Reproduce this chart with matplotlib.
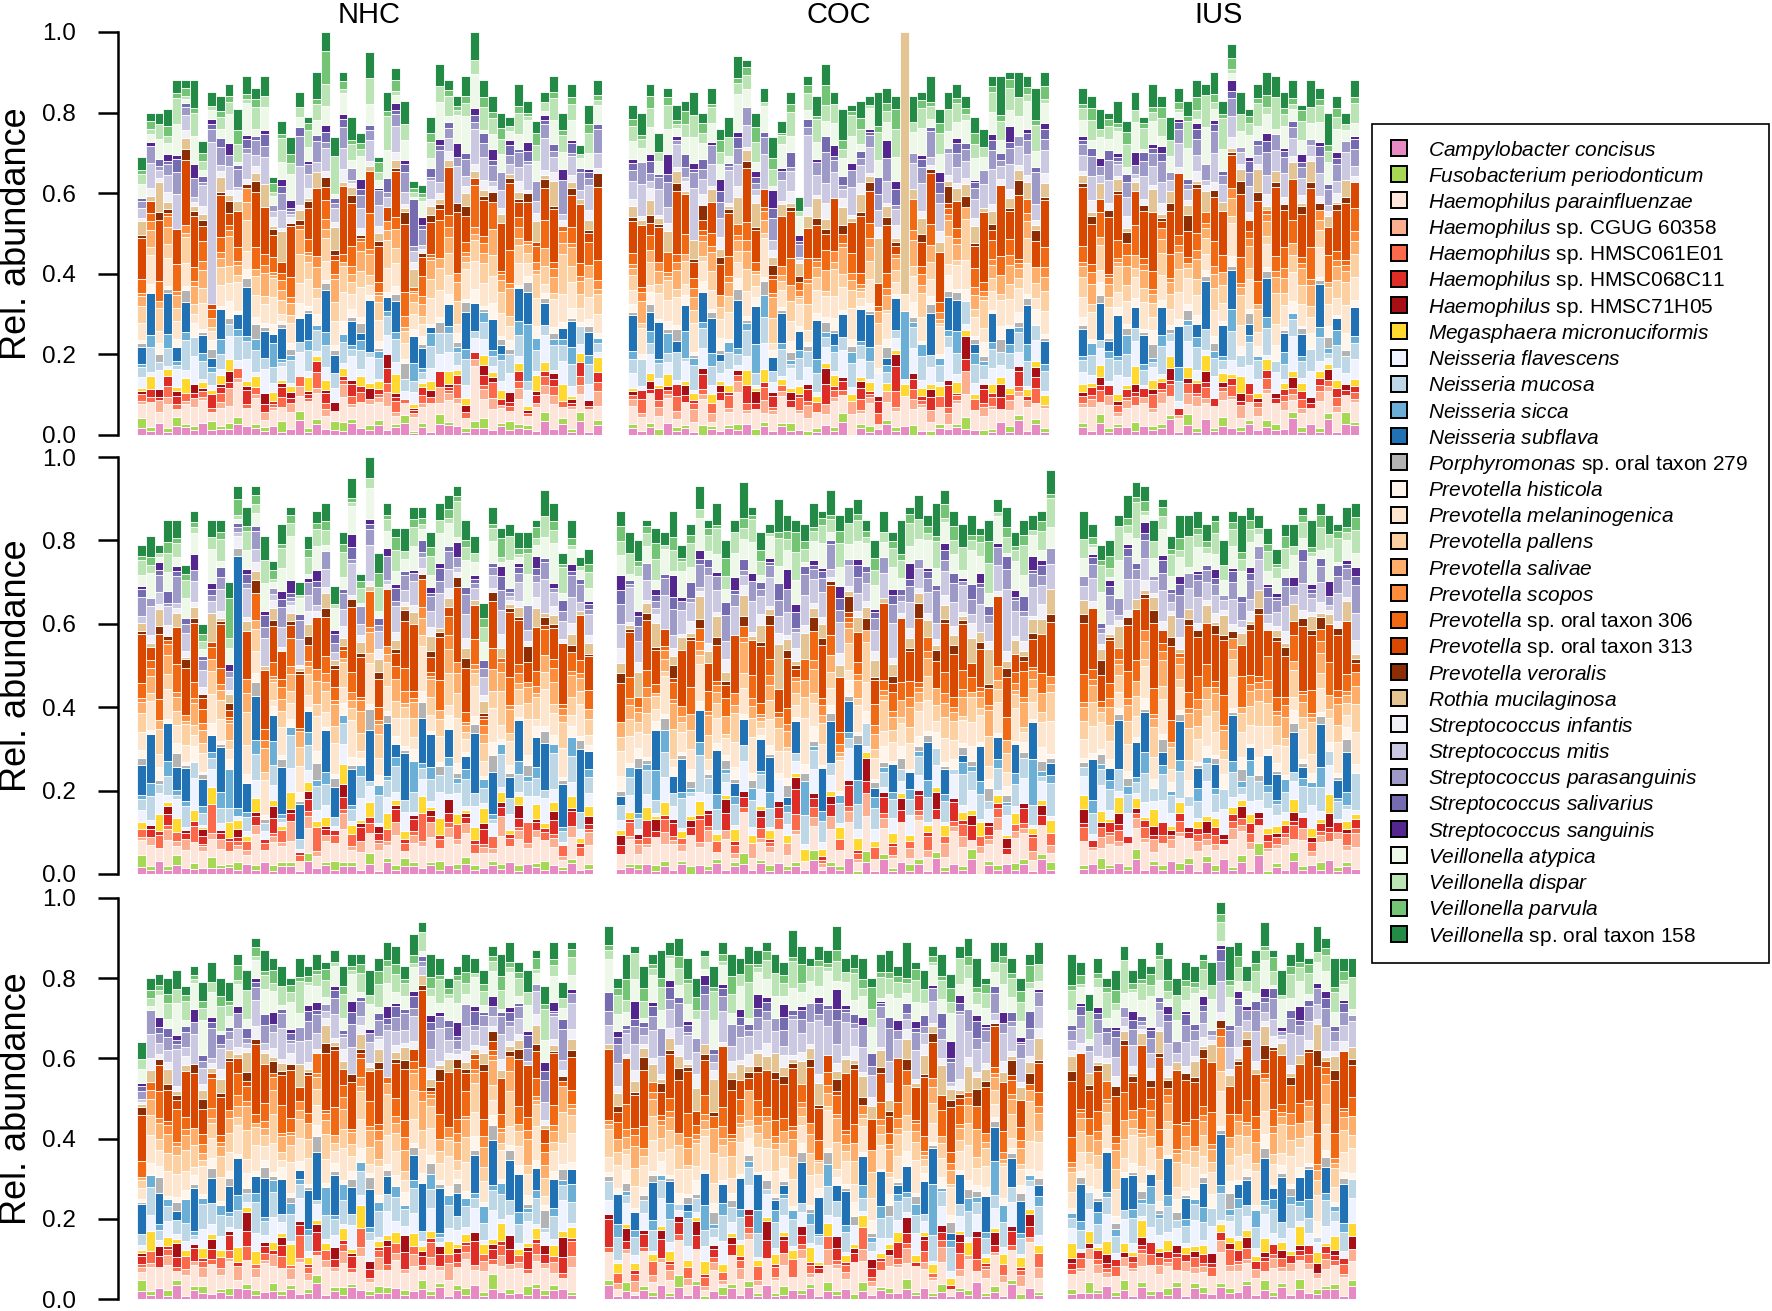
import numpy as np
import matplotlib
matplotlib.use("Agg")
import matplotlib.pyplot as plt
from matplotlib.patches import Rectangle

plt.rcParams["font.family"] = ["Liberation Sans", "DejaVu Sans"]
plt.rcParams["mathtext.fontset"] = "custom"
plt.rcParams["mathtext.rm"] = "Liberation Sans"
plt.rcParams["mathtext.it"] = "Liberation Sans:italic"

GROUPS = ["NHC", "COC", "IUS"]

SPECIES = [
    "Campylobacter concisus", "Fusobacterium periodonticum",
    "Haemophilus parainfluenzae", "Haemophilus sp. CGUG 60358",
    "Haemophilus sp. HMSC061E01", "Haemophilus sp. HMSC068C11",
    "Haemophilus sp. HMSC71H05", "Megasphaera micronuciformis",
    "Neisseria flavescens", "Neisseria mucosa", "Neisseria sicca",
    "Neisseria subflava", "Porphyromonas sp. oral taxon 279",
    "Prevotella histicola", "Prevotella melaninogenica", "Prevotella pallens",
    "Prevotella salivae", "Prevotella scopos", "Prevotella sp. oral taxon 306",
    "Prevotella sp. oral taxon 313", "Prevotella veroralis",
    "Rothia mucilaginosa", "Streptococcus infantis", "Streptococcus mitis",
    "Streptococcus parasanguinis", "Streptococcus salivarius",
    "Streptococcus sanguinis", "Veillonella atypica", "Veillonella dispar",
    "Veillonella parvula", "Veillonella sp. oral taxon 158",
]

COLORS = [
    "#E78AC3", "#A6D854",
    "#FEE5D9", "#FCAE91", "#FB6A4A", "#DE2D26", "#A50F15",
    "#FFD92F",
    "#EFF3FF", "#BDD7E7", "#6BAED6", "#2171B5",
    "#B3B3B3",
    "#FFF5EB", "#FEE6CE", "#FDD0A2", "#FDAE6B", "#FD8D3C", "#F16913",
    "#D94801", "#8C2D04",
    "#E5C494",
    "#F2F0F7", "#CBC9E2", "#9E9AC8", "#756BB1", "#54278F",
    "#EDF8E9", "#BAE4B3", "#74C476", "#238B45",
]

# composition of every sample: one string per species (legend order),
# one char per sample = relative weight, 0-9 a-z A-Z -> 0..61
ALPHA = "0123456789abcdefghijklmnopqrstuvwxyzABCDEFGHIJKLMNOPQRSTUVWXYZ"

# bar heights (summed abundance of the shown species) per sample
NHC_1_TOP = [0.69, 0.80, 0.80, 0.81, 0.88, 0.88, 0.88, 0.73, 0.85, 0.84,
             0.87, 0.81, 0.89, 0.86, 0.89, 0.64, 0.78, 0.74, 0.85, 0.79,
             0.90, 1.00, 0.74, 0.90, 0.79, 0.75, 0.95, 0.69, 0.85, 0.91,
             0.83, 0.63, 0.62, 0.79, 0.92, 0.88, 0.84, 0.89, 1.00, 0.88,
             0.84, 0.80, 0.79, 0.87, 0.83, 0.78, 0.85, 0.89, 0.80, 0.87,
             0.72, 0.82, 0.88]
COC_1_TOP = [0.82, 0.80, 0.87, 0.75, 0.86, 0.82, 0.83, 0.85, 0.80, 0.86,
             0.76, 0.79, 0.94, 0.93, 0.80, 0.86, 0.74, 0.78, 0.85, 0.59,
             0.89, 0.84, 0.92, 0.85, 0.81, 0.82, 0.83, 0.84, 0.85, 0.86,
             0.84, 1.00, 0.84, 0.85, 0.89, 0.81, 0.85, 0.87, 0.84, 0.79,
             0.76, 0.89, 0.89, 0.90, 0.90, 0.89, 0.86, 0.90]
IUS_1_TOP = [0.86, 0.84, 0.81, 0.80, 0.83, 0.78, 0.85, 0.79, 0.87, 0.84,
             0.79, 0.86, 0.83, 0.88, 0.87, 0.90, 0.83, 0.97, 0.85, 0.81,
             0.87, 0.90, 0.89, 0.85, 0.88, 0.82, 0.88, 0.86, 0.80, 0.84,
             0.80, 0.88]
NHC_2_TOP = [0.79, 0.81, 0.79, 0.85, 0.85, 0.74, 0.87, 0.60, 0.85, 0.85,
             0.70, 0.93, 0.88, 0.93, 0.81, 0.75, 0.84, 0.88, 0.70, 0.81,
             0.87, 0.89, 0.69, 0.82, 0.95, 0.72, 1.00, 0.77, 0.89, 0.83,
             0.83, 0.88, 0.88, 0.82, 0.89, 0.91, 0.93, 0.85, 0.81, 0.65,
             0.88, 0.83, 0.84, 0.82, 0.82, 0.85, 0.92, 0.89, 0.77, 0.85,
             0.76, 0.78]
COC_2_TOP = [0.87, 0.82, 0.80, 0.85, 0.83, 0.82, 0.87, 0.79, 0.84, 0.93,
             0.85, 0.89, 0.80, 0.85, 0.94, 0.88, 0.82, 0.84, 0.90, 0.86,
             0.85, 0.84, 0.89, 0.87, 0.92, 0.86, 0.88, 0.90, 0.85, 0.80,
             0.87, 0.82, 0.85, 0.88, 0.91, 0.86, 0.89, 0.92, 0.87, 0.84,
             0.86, 0.83, 0.85, 0.90, 0.88, 0.82, 0.85, 0.86, 0.87, 0.97]
IUS_2_TOP = [0.87, 0.84, 0.79, 0.80, 0.86, 0.91, 0.94, 0.93, 0.85, 0.90,
             0.81, 0.86, 0.86, 0.87, 0.84, 0.86, 0.80, 0.87, 0.86, 0.88,
             0.86, 0.83, 0.78, 0.84, 0.84, 0.88, 0.85, 0.89, 0.86, 0.84,
             0.88, 0.89]
NHC_3_TOP = [0.64, 0.80, 0.81, 0.80, 0.82, 0.78, 0.83, 0.79, 0.84, 0.80,
             0.79, 0.86, 0.82, 0.90, 0.87, 0.85, 0.83, 0.80, 0.85, 0.83,
             0.86, 0.84, 0.87, 0.83, 0.86, 0.86, 0.82, 0.85, 0.89, 0.88,
             0.83, 0.91, 0.94, 0.86, 0.85, 0.80, 0.83, 0.86, 0.85, 0.82,
             0.88, 0.86, 0.89, 0.84, 0.82, 0.87, 0.78, 0.89, 0.79, 0.89]
COC_3_TOP = [0.93, 0.80, 0.86, 0.88, 0.83, 0.86, 0.87, 0.89, 0.90, 0.85,
             0.80, 0.87, 0.83, 0.89, 0.86, 0.85, 0.88, 0.87, 0.89, 0.86,
             0.84, 0.92, 0.88, 0.85, 0.88, 0.87, 0.93, 0.85, 0.86, 0.85,
             0.80, 0.86, 0.87, 0.83, 0.89, 0.84, 0.82, 0.88, 0.86, 0.81,
             0.88, 0.90, 0.85, 0.80, 0.89, 0.89, 0.85, 0.80, 0.86, 0.89]
IUS_3_TOP = [0.86, 0.84, 0.76, 0.85, 0.80, 0.82, 0.88, 0.82, 0.85, 0.83,
             0.89, 0.85, 0.80, 0.84, 0.83, 0.86, 0.84, 0.99, 0.88, 0.89,
             0.83, 0.87, 0.94, 0.87, 0.82, 0.86, 0.89, 0.85, 0.93, 0.90,
             0.85, 0.85, 0.85]

NHC_1 = [
    "2131221412 1322131231 2211321412 3121232112 1312213221 312",
    "3101211021 1201103021 1022101201 2110210113 0121102011 201",
    "4637254826 3a47254638 5426384752 3649275386 4527364826 473",
    "1032012102 3101210320 1203101231 0210321013 2103012301 203",
    "2103120213 0312013021 3201230123 1022013201 3012102310 212",
    "0213201032 1030213201 2301320231 0120312013 0213021201 302",
    "1020102101 2010301201 0120102031 0102010203 1020110201 020",
    "1302140213 2013031204 1302031305 0213041203 1302142031 203",
    "3151426112 4251634152 1431625143 2514361425 1342516143 251",
    "3625184635 2746351826 4735261846 3527463815 2746352837 462",
    "1304120315 0213081203 1402130312 0814021303 1204i30215 031",
    "5a0c38062a 04b0739058 0d4062a038 0c52070b40 6309a05028 070",
    "1021030120 1024101201 0210130102 4010201301 0210301201 020",
    "1231213121 3122131231 2113221312 1321132121 3121231213 121",
    "5738462927 3846592748 3657492856 4738562947 5836472958 374",
    "5264372516 3275264365 2746352764 3526475236 4725364275 364",
    "3425314623 5342613452 4351264325 1436254213 5462314526 341",
    "1203121302 1130213201 2310231120 3121032113 0213120321 102",
    "4251603725 1406352714 0632517403 6251740362 5173046215 374",
    "c3g08hb51e 2a0fc73i09 d41gb08e3c h05a2fd81b 0ge4c17h0a d3f",
    "1021031201 2013020112 0310210201 3012102301 2011302102 013",
    "4182031205 1302619021 3051201302 1803120412 0312051802 130",
    "1213021302 1312031213 0213121302 1312130213 1203121312 031",
    "36258417A2 4163725184 2735164827 3516248357 1624837516 283",
    "2413524136 2514325163 4215342613 5241632514 3624153261 425",
    "1021310213 0121302120 1312021031 2l13120213 1021301203 121",
    "0102103010 2010102301 0201030102 1020103010 2010301021 010",
    "4253716223 5172635924 3615274362 5143726b51 3624751836 254",
    "3142615314 2516317425 3781425371 4215361427 3516142735 161",
    "1203121302 1412031302 1a02120413 0213021203 1402130212 031",
    "4235326435 2643524632 5642635243 6325432645 3526432534 263",
]

COC_1 = [
    "2120312102 1213021312 0121302113 1201021312 01213121",
    "1012011021 0110210120 1101201201 1020110120 11021011",
    "5384627351 8463725946 3527463815 4736251847 36254736",
    "2103120413 0121031201 3021041203 1021302140 21031201",
    "1302140213 0412031205 1302103120 4021031204 13021030",
    "0214032130 2105213021 3041203120 6021304120 31203120",
    "1020103010 2010401020 1030102010 3010201040 10201020",
    "1021301203 1204130213 0213021302 1302130412 03120213",
    "4152316143 2514163152 4131625140 3152416314 15263141",
    "4635271846 3527463918 4625374603 2046352847 36254736",
    "2031508214 0312a50213 0412031502 0g13021804 12031502",
    "a05c03806b 2090d04a07 0c03509b02 8000a06c03 09050b07",
    "1020130102 1021030120 1021020103 0010201302 10201201",
    "2131213121 3121312132 1213121312 1031213121 31212131",
    "4628573946 5837492658 3746592847 3456482957 36485927",
    "4163527416 3526417352 6417352641 3026415273 64152736",
    "2534152436 3425136241 5342631524 3052413625 14362534",
    "1203120312 0213021302 1203121302 1023021203 12031203",
    "3140526314 0625314073 5140263514 0062531407 26351406",
    "9e3b0gc52a 8d0fb41hc0 7a3e09gb4d 2006ce1a08 f3b9d05e",
    "1021020130 2102103012 0210201302 1002103021 02013021",
    "3142531604 2153802415 3620415283 1Z24031526 14032514",
    "2131213021 3121302131 2130213121 3002131213 02131213",
    "5728461g37 5a46283751 h647285936 4057284637 5b284637",
    "3524613526 4135246315 2463152436 1024631524 36152463",
    "2031204120 3120213041 2031202130 4002130412 03120213",
    "1020510201 3010205102 0103020105 2001030201 02050102",
    "5374625836 4275361847 2536482735 6047253648 37254836",
    "4253614725 3624715362 4735264153 7025364715 26374251",
    "2130214021 3012503120 2140213012 5002130214 02130214",
    "4536243725 3642536435 2643725364 3052643526 43625364",
]

IUS_1 = [
    "2131221312 4121312213 1212312131 23",
    "1021102011 1021012011 0210120110 21",
    "4637254836 5427364825 3746253847 36",
    "1203120213 0123102130 2103120312 01",
    "2130212031 3021201302 1302130213 02",
    "0213021302 1203120213 0212031203 12",
    "1020102010 3010201020 1010201020 10",
    "2130214021 3021302140 1302130213 02",
    "3241526131 4253161425 3141625314 26",
    "3527463518 2637452836 4725364718 35",
    "1302150213 0413021602 1304120315 02",
    "7093b05a08 0c04907b03 0a06080d04 09",
    "1021020130 1020120103 0201020120 10",
    "2131212132 1213121321 2131213121 32",
    "5738465937 4856374958 3647583946 57",
    "5263742536 4725364273 5264372536 47",
    "3524153624 3516243526 1435264315 24",
    "1302130213 1203120312 0213021302 13",
    "4261537240 6315274062 5137426053 17",
    "fa3hc08gd2 bi5e0ca9f3 h0dc7gb05e a8",
    "1202130201 2031020130 2012031202 10",
    "2140312051 3021402130 5120314021 30",
    "1302131213 0213120312 1302131213 02",
    "4627351846 3725184637 2548362714 53",
    "3526142536 2415362514 2635241536 25",
    "1203120312 0213021203 1302120312 03",
    "1020103012 0102010301 0201030102 01",
    "4253627153 4261735246 3517253648 24",
    "3524163725 4153627143 5264173524 16",
    "1302130213 0214021302 1302140213 02",
    "4352634253 6435263452 3645325364 25",
]

NHC_2 = [
    "2131221312 2121312213 1312212131 2213121312 2131221213 12",
    "3101201021 1201021102 0121102011 2101201210 1102012011 02",
    "4537264835 4327384536 2748354637 2548364735 2648375426 37",
    "1203140213 0112021503 1204130213 0215021302 1403120213 05",
    "2031203150 3120213021 4021302130 2150213021 3021402130 21",
    "0213021402 1102150213 0213041203 1302120215 0213021304 12",
    "0102010301 0201040102 0103010201 0102030102 0104010201 03",
    "2041302130 5213021402 1305213041 2031402135 0213041203 14",
    "3152416132 0114251613 2415163142 5132614152 3141526314 25",
    "3625173625 4036271836 4725361846 3527462835 1746352837 46",
    "1304120315 c213081203 1402130312 0814021303 1204130215 03",
    "8c0a5b0d3e 0Z6a09c0b5 0e7090a0d3 c08b0604e0 a05d08b0c0 e7",
    "2010310201 0203102010 3020104020 1030201020 4010203010 20",
    "2131213121 3022131231 2113221312 1321132121 3121231213 12",
    "5738462957 3065927483 6574928564 7385629475 8364729583 74",
    "5264372546 3075264365 2746352764 3526475236 4725364275 36",
    "3425314623 5042613452 4351264325 1436254213 5462314526 34",
    "1203121302 1030213201 2310231120 3121032113 0213120321 10",
    "4251603725 1006352714 0632517403 6251740362 5173046215 37",
    "d3f08gb51e 20a0fc73h0 9d41gb08e3 ch05a2fd81 b0ge4c17h0 ad",
    "1021031201 2003020112 0310210201 3012102301 2011302102 01",
    "2140312051 3022140213 0512031402 1305120314 0213051203 14",
    "0213121302 1312031213 1203121312 1213021302 1312130213 03",
    "2735164827 4163725184 1624837516 3625841736 3516248357 28",
    "5241632514 2114325163 3624153261 4215342613 2413524136 42",
    "2013120213 0121302120 1021301203 1021310213 1312021031 12",
    "1020103010 2010102301 2010301021 0102103010 0201030102 01",
    "3615274362 5143726b51 4253716243 3624751836 5172635924 25",
    "4215361427 3142615314 3516142735 2516317425 3161425371 16",
    "1203121302 c412031202 1302120413 0213021203 1402130212 03",
    "3526432534 5342635243 2643524632 6325432645 4235326435 26",
]

COC_2 = [
    "1213121302 1312213121 2131213021 3121213121 3021312131",
    "0110210120 1101201201 1020110120 1102101101 2011021012",
    "3725946384 6271835463 7251847364 5372846375 2648375462",
    "0121031201 3021041203 1021302140 2103120413 0213021302",
    "0412031205 1302103120 4021031204 1302140213 0312021503",
    "2105213021 3041203120 6021304120 3120312041 3021203120",
    "2010401020 1030102010 3010201040 1020103010 2010301020",
    "1204130213 0213021302 1302130412 0312021302 1402130213",
    "2514163152 4131625143 3152416314 1526314152 4131625141",
    "3527463918 4625374603 2746352847 3625473618 4725364718",
    "0312a50213 0412031502 0813021804 1203150203 1402130g12",
    "2090d04a07 0c03509b02 800ca06c03 09050b0702 0a05080d03",
    "1021030120 1021020103 0210201302 1020120102 1030201021",
    "3121312132 1213121312 1231213121 3121213121 3121312131",
    "5837492658 3746592847 3b56482957 3648592746 5837492658",
    "3526417352 6417352641 3526415273 6415273641 5273641527",
    "3425136241 5342631524 3452413625 1436253425 1362415342",
    "0213021302 1203121302 1023021203 1203120312 0213021302",
    "0625314073 5140263514 0562531407 2635140625 3140735140",
    "8d0fb41hc0 7a3e09gb4d 200fce1a08 f3b9d05e9c 3b0gc52a8d",
    "2102103012 0210201302 1032103021 0201302121 0210301202",
    "2153802415 3620415283 1624031526 1403251421 5380241536",
    "3121302131 2130213121 3212131213 0213121321 3021312130",
    "5a46283751 h647285936 4757284637 5b28463757 2846j75a46",
    "4135246315 2463152436 1524631524 3615246341 3524631524",
    "3120213041 2031202130 4212130412 0312021320 3120413120",
    "3010205102 0103020105 2011030201 0205010201 0301020510",
    "4275361847 2536482735 6147253648 3725483642 7536184725",
    "3624715362 4735264153 7325364715 2637425136 2471536247",
    "3012503120 2140213012 5212130214 0213021430 1250312021",
    "3642536435 2643725364 3452643526 4362536436 4253643526",
]

IUS_2 = [
    "1312213121 3121213121 3021312131 21",
    "1021012011 0210120110 2110210201 10",
    "5427364825 3746253847 3646372548 35",
    "0123102130 2103120312 0112031202 13",
    "3021201302 1302130213 0221302120 31",
    "1203120213 0212031203 1202130213 02",
    "3010201020 1010201020 1010201030 10",
    "3021302140 1302130213 0221302140 21",
    "4253161425 3141625314 2632415261 31",
    "2637452836 4725364718 3535274635 18",
    "0413021602 1304120315 0213021501 30",
    "0c04907b03 0a06080d04 0970930b05 a0",
    "1020120103 0201020120 1010210201 30",
    "1213121321 2131213121 3221312121 32",
    "4856374958 3647583946 5757384659 37",
    "4725364273 5264372536 4752637425 36",
    "3516243526 1435264315 2435241536 24",
    "1203120312 0213021302 1313021302 13",
    "6315274062 5137426053 1742615372 40",
    "bi5e0ca9f3 h0dc7gb05e a8fa3hc08g d2",
    "2031020130 2012031202 1012021302 01",
    "3021402130 5120314021 3021403120 51",
    "0213120312 1302131213 0213021312 13",
    "3725184637 2548362714 5346273518 46",
    "2415362514 2635241536 2535261425 36",
    "0213021203 1302120312 0312031203 12",
    "0102010301 0201030102 0110201030 12",
    "4261735246 3517253648 2442536271 53",
    "4153627143 5264173524 1635241637 25",
    "0214021302 1302140213 0213021302 13",
    "6435263452 3645325364 2543526342 53",
]

NHC_3 = [
    "3121312212 1321221312 4121321213 1221312131 2212131321",
    "4102101201 2011021101 2012101210 1021101201 3010211201",
    "3648275364 7253846273 5846372538 4627354836 2748365427",
    "2103021302 1402130312 0213021402 1302150213 0312021403",
    "1302140213 2031203152 1302140213 0214031202 1302130214",
    "3021203120 4130213021 5021302130 4021302150 2130412031",
    "1020301020 1040102010 2030102010 4010201020 1030102040",
    "1503120312 0413021602 1203150213 0312041203 1502130413",
    "2415131624 1514263152 4131625143 2516143251 6142513261",
    "4725361846 3527462835 1746352837 4625173625 4736271836",
    "0312081203 1402130312 0814021303 1204130215 1304120315",
    "b06020a050 7a04b0902c c0a0709030 06a0b05080 908c060a04",
    "1030201020 2010310201 4010203010 0203102010 3020104020",
    "1321132121 2131213121 3121231213 3122131231 2113221312",
    "4738562947 5836472958 5738462957 3657492856 3846592748",
    "3526475236 5264372546 4725364275 2746352764 3275264365",
    "1436254213 4351264325 3425314623 5462314526 5342613452",
    "0213120321 2310231120 1203121302 3121032113 1130213201",
    "6251740362 0632517403 5173046215 4251603725 1406352714",
    "h05a2fd81b d41gb08e3c 0ge4c17h0a c3g08hb51e 2a0fc73i09",
    "3012102301 1021031201 0310210201 2011302102 2013020112",
    "1305120314 2140312051 0512031402 3022140213 0213051203",
    "1312130213 0213121302 1213021302 1203121312 1312031213",
    "1624837516 3516248357 4263725184 3625841736 2735164827",
    "3624153261 2413524136 5241632514 4215342613 2514325163",
    "2013120213 1021301203 1021310213 1312021031 0121302120",
    "1020103010 0201030102 2010301021 0102103010 2010102301",
    "5143726b51 3624751836 4253716243 3615274362 5172635924",
    "4215361427 3161425371 3516142735 3142615314 2516317425",
    "0213021203 1402130212 1302120413 1203121302 1412031202",
    "6325432645 5342635243 4235326435 3526432534 2643524632",
]

COC_3 = [
    "3121213121 3021312131 1213121302 1312213121 2131213021",
    "1020110120 1102101101 2011021012 0110210120 1101201201",
    "6271835463 7251847364 5372846375 2648375462 3725946384",
    "0213021302 0121031201 3021041203 1021302140 2103120413",
    "1302140213 0312021503 0412031205 1302103120 4021031204",
    "6021304120 3120312041 3021203120 2105213021 3041203120",
    "1030102010 3010201040 1020103010 2010301020 2010401020",
    "0312021302 1402130213 1204130213 0213021302 1302130412",
    "3152416314 1526314152 4131625141 2514163152 4131625143",
    "4725364718 3527463918 4625374603 2746352847 3625473618",
    "0412031502 0813021804 1203150203 1402130g12 0312a50213",
    "09050b0702 0a05080d03 2090d04a07 0c03509b02 800ca06c03",
    "1020120102 1030201021 1021030120 1021020103 0210201302",
    "1231213121 3121213121 3121312131 3121312132 1213121312",
    "3746592847 3b56482957 3648592746 5837492658 5837492658",
    "6415273641 5273641527 3526417352 6417352641 3526415273",
    "1436253425 1362415342 3425136241 5342631524 3452413625",
    "1023021203 1203120312 0213021302 0213021302 1203121302",
    "0562531407 2635140625 3140735140 0625314073 5140263514",
    "f3b9d05e9c 3b0gc52a8d 8d0fb41hc0 7a3e09gb4d 200fce1a08",
    "0201302121 0210301202 2102103012 0210201302 1032103021",
    "1403251421 5380241536 2153802415 3620415283 1624031526",
    "0213121321 3021312130 3121302131 2130213121 3212131213",
    "4757284637 5b28463757 2846j75a46 5a46283751 h647285936",
    "3615246341 3524631524 4135246315 2463152436 1524631524",
    "4212130412 0312021320 3120413120 3120213041 2031202130",
    "0205010201 0301020510 3010205102 0103020105 2011030201",
    "7536184725 4275361847 2536482735 6147253648 3725483642",
    "2637425136 2471536247 3624715362 4735264153 7325364715",
    "1250312021 3012503120 2140213012 5212130214 0213021430",
    "4362536436 4253643526 3642536435 2643725364 3452643526",
]

IUS_3 = [
    "1212312131 2131221312 4121312213 212",
    "1021012011 0210120110 1021102011 101",
    "3746253847 4637254836 5427364825 463",
    "0123102130 2103120312 1203120213 012",
    "1302130213 2130212031 3021201302 130",
    "1203120213 0212031203 0213021302 120",
    "1010201020 1020102010 3010201020 102",
    "3021302140 1302130213 2130214021 302",
    "3141625314 3241526131 4253161425 324",
    "2637452836 4725364718 3527463518 263",
    "1304120315 1302150213 0413021602 130",
    "0c04907b03 0a06080d04 7093b05a08 0c0",
    "0201020120 1021020130 1020120103 020",
    "1213121321 2131213121 2131212132 121",
    "3647583946 5738465937 4856374958 364",
    "4725364273 5264372536 5263742536 472",
    "1435264315 3524153624 3516243526 143",
    "1203120312 0213021302 1302130213 120",
    "5137426053 4261537240 6315274062 513",
    "bi5e0ca9f3 h0dc7gb05e fa3hc08gd2 bi5",
    "2012031202 1202130201 2031020130 201",
    "3021402130 5120314021 2140312051 302",
    "1302131213 1302131213 0213120312 130",
    "2548362714 4627351846 3725184637 254",
    "2415362514 2635241536 3526142536 241",
    "1302120312 1203120312 0213021203 130",
    "0102010301 0201030102 1020103012 010",
    "3517253648 4253627153 4261735246 351",
    "4153627143 5264173524 3524163725 415",
    "1302140213 1302130213 0214021302 130",
    "6435263452 3645325364 4352634253 643",
]

PANELS = [[(NHC_1, NHC_1_TOP), (COC_1, COC_1_TOP), (IUS_1, IUS_1_TOP)],
          [(NHC_2, NHC_2_TOP), (COC_2, COC_2_TOP), (IUS_2, IUS_2_TOP)],
          [(NHC_3, NHC_3_TOP), (COC_3, COC_3_TOP), (IUS_3, IUS_3_TOP)]]

# layout, in pixels of the 1772x1311 canvas
W, H = 1772, 1311
ROW_Y = [(32, 435), (457, 874), (898, 1299)]
PANEL_LEFT = [[137, 628, 1078], [137, 616, 1079], [137, 604, 1067]]
PITCH = 8.77


def decode(cols, tops):
    rows = [s.replace(" ", "") for s in cols]
    n = len(tops)
    arr = np.zeros((len(rows), n))
    for i, r in enumerate(rows):
        for j, c in enumerate(r[:n]):
            arr[i, j] = ALPHA.index(c)
    share = arr / arr.sum(axis=0)
    return share * np.asarray(tops)


def label_tex(name):
    if " sp. " in name:
        genus, rest = name.split(" sp. ", 1)
        return r"$\it{" + genus + "}$ sp. " + rest
    return r"$\it{" + name.replace(" ", r"\ ") + "}$"


fig = plt.figure(figsize=(W / 100, H / 100), dpi=100)

for r in range(3):
    top, bot = ROW_Y[r]
    for c in range(3):
        comp, tops = PANELS[r][c]
        vals = decode(comp, tops)
        n = vals.shape[1]
        left = PANEL_LEFT[r][c]
        ax = fig.add_axes([left / W, 1 - bot / H, n * PITCH / W, (bot - top) / H])
        x = np.arange(n)
        base = np.zeros(n)
        for k in range(len(SPECIES)):
            v = vals[k]
            m = v > 0
            ax.bar(x[m], v[m], 1.0, bottom=base[m], color=COLORS[k],
                   edgecolor="white", linewidth=0.6)
            base += v
        ax.set_xlim(-0.5, n - 0.5)
        ax.set_ylim(0, 1)
        for s in ("top", "right", "bottom"):
            ax.spines[s].set_visible(False)
        ax.set_xticks([])
        if c == 0:
            sp = ax.spines["left"]
            sp.set_position(("outward", 13.7))
            sp.set_bounds(0, 1)
            sp.set_linewidth(1.8)
            ax.set_yticks([0, 0.2, 0.4, 0.6, 0.8, 1.0])
            ax.set_yticklabels(["0.0", "0.2", "0.4", "0.6", "0.8", "1.0"])
            ax.tick_params(axis="y", length=14.4, width=1.8, pad=16,
                           labelsize=17.5, direction="out")
            fig.text(17 / W, 1 - (top + bot) / 2 / H, "Rel. abundance",
                     rotation=90, ha="center", va="center", fontsize=26)
        else:
            ax.spines["left"].set_visible(False)
            ax.set_yticks([])
        ax.patch.set_visible(False)
        if r == 0:
            cx = left + n * PITCH / 2
            fig.text(cx / W, 1 - 23 / H, GROUPS[c], ha="center",
                     va="baseline", fontsize=21)

# legend drawn in pixel coordinates
lg = fig.add_axes([0, 0, 1, 1])
lg.set_xlim(0, W)
lg.set_ylim(H, 0)
lg.axis("off")
lg.add_patch(Rectangle((1372, 124), 397, 839, fill=False, edgecolor="black",
                       linewidth=1.2))
for i, (name, col) in enumerate(zip(SPECIES, COLORS)):
    y = 148 + i * 26.2
    lg.add_patch(Rectangle((1391, y - 8), 16, 16, facecolor=col,
                           edgecolor="black", linewidth=1.4))
    lg.text(1428, y + 7.5, label_tex(name), fontsize=15, va="baseline",
            ha="left")

fig.savefig("out.png", dpi=100)
